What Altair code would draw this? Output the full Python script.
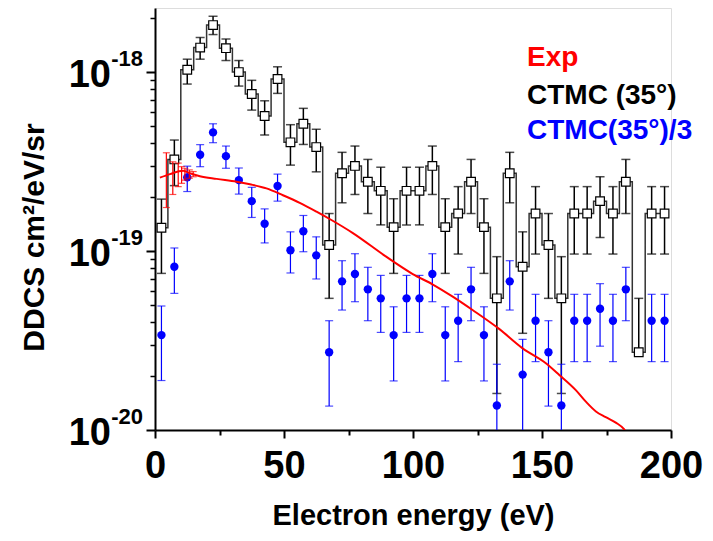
import altair as alt
import pandas as pd

# ---------------- data ----------------
ctmc_E = [2.5, 7.5, 12.5, 17.5, 22.5, 27.5, 32.5, 37.5, 42.5, 47.5,
          52.5, 57.5, 62.5, 67.5, 72.5, 77.5, 82.5, 87.5, 92.5, 97.5,
          102.5, 107.5, 112.5, 117.5, 122.5, 127.5, 132.5, 137.5, 142.5, 147.5,
          152.5, 157.5, 162.5, 167.5, 172.5, 177.5, 182.5, 187.5, 192.5, 197.5]
ctmc_v = [1.35e-19, 3.25e-19, 1.03e-18, 1.37e-18, 1.83e-18, 1.36e-18, 1.00e-18, 7.54e-19, 5.68e-19, 9.14e-19,
          4.05e-19, 5.14e-19, 3.81e-19, 1.08e-19, 2.72e-19, 2.99e-19, 2.44e-19, 2.17e-19, 1.36e-19, 2.17e-19,
          2.17e-19, 2.99e-19, 1.36e-19, 1.62e-19, 2.44e-19, 1.36e-19, 5.44e-20, 2.72e-19, 8.17e-20, 1.62e-19,
          1.08e-19, 5.44e-20, 1.62e-19, 1.62e-19, 1.90e-19, 1.62e-19, 2.44e-19, 2.72e-20, 1.62e-19, 1.62e-19]
ctmc_lo = [7.5e-20, 2.32e-19, 8.57e-19, 1.18e-18, 1.62e-18, 1.16e-18, 8.35e-19, 6.13e-19, 4.45e-19, 7.6e-19,
           3.02e-19, 3.94e-19, 2.77e-19, 5.44e-20, 1.86e-19, 2.07e-19, 1.62e-19, 1.40e-19, 7.5e-20, 1.40e-19,
           1.40e-19, 2.07e-19, 7.5e-20, 9.62e-20, 1.62e-19, 7.5e-20, 1.6e-20, 1.86e-19, 3.47e-20, 9.62e-20,
           5.44e-20, 1.6e-20, 9.62e-20, 9.62e-20, 1.19e-19, 9.62e-20, 1.62e-19, 2.72e-20, 9.62e-20, 9.62e-20]
ctmc_hi = [1.95e-19, 4.17e-19, 1.18e-18, 1.56e-18, 2.05e-18, 1.53e-18, 1.16e-18, 8.99e-19, 6.91e-19, 1.07e-18,
           5.08e-19, 6.27e-19, 4.79e-19, 1.62e-19, 3.56e-19, 3.86e-19, 3.25e-19, 2.94e-19, 1.96e-19, 2.94e-19,
           2.94e-19, 3.86e-19, 1.96e-19, 2.29e-19, 3.25e-19, 1.96e-19, 9.3e-20, 3.56e-19, 1.28e-19, 2.29e-19,
           1.62e-19, 9.3e-20, 2.29e-19, 2.29e-19, 2.60e-19, 2.29e-19, 3.25e-19, 5.44e-20, 2.29e-19, 2.29e-19]

blue_E = [2.5, 7.5, 12.5, 17.5, 22.5, 27.5, 32.5, 37.5, 42.5, 47.5,
          52.5, 57.5, 62.5, 67.5, 72.5, 77.5, 82.5, 87.5, 92.5, 97.5,
          102.5, 107.5, 112.5, 117.5, 122.5, 127.5, 132.5, 137.5, 142.5, 147.5,
          152.5, 157.5, 162.5, 167.5, 172.5, 177.5, 182.5, 192.5, 197.5]
blue_v = [3.39e-20, 8.17e-20, 2.58e-19, 3.45e-19, 4.60e-19, 3.39e-19, 2.49e-19, 1.90e-19, 1.42e-19, 2.31e-19,
          1.01e-19, 1.29e-19, 9.46e-20, 2.72e-20, 6.77e-20, 7.44e-20, 6.11e-20, 5.44e-20, 3.39e-20, 5.44e-20,
          5.44e-20, 7.44e-20, 3.39e-20, 4.08e-20, 6.11e-20, 3.39e-20, 1.37e-20, 6.77e-20, 2.04e-20, 4.08e-20,
          2.72e-20, 1.37e-20, 4.08e-20, 4.08e-20, 4.76e-20, 4.08e-20, 6.11e-20, 4.08e-20, 4.08e-20]
blue_lo = [1.89e-20, 5.8e-20, 2.15e-19, 2.96e-19, 4.03e-19, 2.90e-19, 2.08e-19, 1.54e-19, 1.11e-19, 1.90e-19,
           7.54e-20, 9.91e-20, 6.98e-20, 1.36e-20, 4.68e-20, 5.21e-20, 4.08e-20, 3.51e-20, 1.88e-20, 3.51e-20,
           3.51e-20, 5.21e-20, 1.88e-20, 2.41e-20, 4.08e-20, 1.88e-20, 4.0e-21, 4.68e-20, 8.7e-21, 2.41e-20,
           1.36e-20, 4.0e-21, 2.41e-20, 2.41e-20, 2.94e-20, 2.41e-20, 4.08e-20, 2.41e-20, 2.41e-20]
blue_hi = [4.93e-20, 1.04e-19, 2.98e-19, 3.93e-19, 5.14e-19, 3.86e-19, 2.91e-19, 2.27e-19, 1.72e-19, 2.69e-19,
           1.28e-19, 1.58e-19, 1.20e-19, 4.08e-20, 8.83e-20, 9.66e-20, 8.11e-20, 7.31e-20, 4.88e-20, 7.31e-20,
           7.31e-20, 9.66e-20, 4.88e-20, 5.73e-20, 8.11e-20, 4.88e-20, 2.33e-20, 8.83e-20, 3.21e-20, 5.73e-20,
           4.08e-20, 2.33e-20, 5.73e-20, 5.73e-20, 6.57e-20, 5.73e-20, 8.11e-20, 5.73e-20, 5.73e-20]

exp_E = [1.9, 5.8, 10.9, 13.5, 17.4, 23.9, 31.6, 36.8, 43.2, 49.6, 56.1, 62.6, 67.7,
         76.7, 89.6, 99.9, 107.7, 115.4, 123.1, 133.5, 142.5, 151.5, 156.7, 163.1,
         167.0, 170.9, 174.7, 178.6, 181.8, 184.0]
exp_v = [2.57e-19, 2.69e-19, 2.81e-19, 2.72e-19, 2.62e-19, 2.53e-19, 2.44e-19, 2.36e-19, 2.24e-19,
         2.05e-19, 1.86e-19, 1.66e-19, 1.51e-19, 1.26e-19, 9.30e-20, 7.44e-20, 6.50e-20, 5.56e-20,
         4.68e-20, 3.66e-20, 2.86e-20, 2.36e-20, 2.03e-20, 1.67e-20, 1.44e-20, 1.27e-20, 1.18e-20,
         1.10e-20, 1.01e-20, 9.0e-21]
experr_E = [4.4, 6.9, 9.0, 10.3, 11.6, 13.3, 14.8]
experr_lo = [1.75e-19, 2.07e-19, 2.29e-19, 2.39e-19, 2.49e-19, 2.55e-19, 2.60e-19]
experr_hi = [3.54e-19, 3.15e-19, 3.10e-19, 2.96e-19, 2.90e-19, 2.84e-19, 2.78e-19]

x_major = [0, 50, 100, 150, 200]
x_minor = [25, 75, 125, 175]
y_major = [1e-20, 1e-19, 1e-18]
y_minor = [2e-20, 3e-20, 4e-20, 5e-20, 6e-20, 7e-20, 8e-20, 9e-20,
           2e-19, 3e-19, 4e-19, 5e-19, 6e-19, 7e-19, 8e-19, 9e-19, 2e-18]
y_base = ["10", "10", "10"]
y_exp = ["-20", "-19", "-18"]
legend_labels = ["Exp", "CTMC (35°)", "CTMC(35°)/3"]
legend_colors = ["#ff0000", "#000000", "#0000ff"]

# ---------------- tables ----------------
black_df = pd.DataFrame({"E": ctmc_E, "v": ctmc_v, "lo": ctmc_lo, "hi": ctmc_hi})
blue_df = pd.DataFrame({"E": blue_E, "v": blue_v, "lo": blue_lo, "hi": blue_hi})
exp_df = pd.DataFrame({"E": exp_E, "v": exp_v})
experr_df = pd.DataFrame({"E": experr_E, "lo": experr_lo, "hi": experr_hi})
ylab_df = pd.DataFrame({"v": y_major, "base": y_base, "exp": y_exp})

FONT = "Liberation Sans"
xs = alt.Scale(domain=[0, 200], nice=False, zero=False)
ys = alt.Scale(type="log", domain=[1e-20, 2.28e-18], nice=False)


def X(axis=None):
    return alt.X("E:Q", scale=xs, axis=axis)


def Y(field, axis=None):
    return alt.Y(field, type="quantitative", scale=ys, axis=axis)


def errbars(df, color, width, cap):
    rule = alt.Chart(df).mark_rule(color=color, strokeWidth=width, clip=True).encode(
        x=X(), y=Y("lo"), y2="hi")
    top = alt.Chart(df).mark_tick(color=color, orient="horizontal", size=cap,
                                  thickness=width, clip=True).encode(x=X(), y=Y("hi"))
    bot = alt.Chart(df).mark_tick(color=color, orient="horizontal", size=cap,
                                  thickness=width, clip=True).encode(x=X(), y=Y("lo"))
    return [rule, top, bot]


main_x_axis = alt.Axis(values=x_major, tickSize=8, tickWidth=2, tickColor="black",
                       domainColor="black", domainWidth=2, grid=False,
                       labelFont=FONT, labelFontSize=38, labelFontWeight="bold",
                       labelColor="black", labelPadding=9, labelFlush=False,
                       title="Electron energy (eV)", titleFont=FONT, titleFontSize=29,
                       titleFontWeight="bold", titleColor="black",
                       titleBaseline="alphabetic", titleY=94, orient="bottom")
minor_x_axis = alt.Axis(values=x_minor, tickSize=5, tickWidth=2, tickColor="black",
                        domain=False, labels=False, grid=False, title=None, orient="bottom")
main_y_axis = alt.Axis(values=y_major, tickSize=9, tickWidth=2, tickColor="black",
                       domainColor="black", domainWidth=2, grid=False, labels=False,
                       title="DDCS cm²/eV/sr", titleFont=FONT, titleFontSize=30,
                       titleFontWeight="bold", titleColor="black", titleAngle=270,
                       titleAlign="center", titleBaseline="alphabetic",
                       titleX=-112, titleY=229, orient="left")
minor_y_axis = alt.Axis(values=y_minor, tickSize=5, tickWidth=1.5, tickColor="black",
                        domain=False, labels=False, grid=False, title=None, orient="left")

layers = []
# black CTMC
layers += errbars(black_df, "#000000", 1.5, 9)
layers.append(alt.Chart(black_df).mark_line(interpolate="step", color="#333333",
                                            strokeWidth=1.5, clip=True).encode(
    x=X(minor_x_axis), y=Y("v", minor_y_axis)))
layers.append(alt.Chart(black_df).mark_point(shape="square", filled=True, fill="white",
                                             stroke="black", strokeWidth=1.2, size=75,
                                             opacity=1, clip=True).encode(x=X(), y=Y("v")))
# blue CTMC/3
layers += errbars(blue_df, "#0000ff", 1.2, 8)
layers.append(alt.Chart(blue_df).mark_circle(color="#0000ff", size=70, opacity=1,
                                             clip=True).encode(x=X(), y=Y("v")))
# red experiment
layers += errbars(experr_df, "#ff0000", 1.2, 7)
layers.append(alt.Chart(exp_df).mark_line(color="#ff0000", strokeWidth=2, clip=True,
                                          interpolate="monotone").encode(
    x=X(main_x_axis), y=Y("v", main_y_axis)))

# y tick labels 10^n
layers.append(alt.Chart(ylab_df).mark_text(align="right", baseline="middle", font=FONT,
                                           fontSize=38, fontWeight="bold", color="black",
                                           dy=3.5).encode(
    x=alt.value(-44), y=Y("v"), text="base:N"))
layers.append(alt.Chart(ylab_df).mark_text(align="right", baseline="middle", font=FONT,
                                           fontSize=22, fontWeight="bold", color="black",
                                           dy=-13).encode(
    x=alt.value(-12), y=Y("v"), text="exp:N"))

# legend texts
legend_y = [58, 96, 131]
for lab, col, yy in zip(legend_labels, legend_colors, legend_y):
    layers.append(alt.Chart(pd.DataFrame({"t": [lab]})).mark_text(
        align="left", baseline="alphabetic", font=FONT, fontSize=28, fontWeight="bold",
        color=col).encode(x=alt.value(372), y=alt.value(yy), text="t:N"))

chart = alt.layer(*layers).resolve_axis(x="independent", y="independent").properties(
    width=516, height=422,
    autosize=alt.AutoSizeParams(type="none"),
    padding={"left": 147, "top": 0, "right": 34, "bottom": 103},
).configure_view(stroke=None).configure(background="white")

chart.save("out.html", embed_options={"renderer": "svg", "actions": False})
